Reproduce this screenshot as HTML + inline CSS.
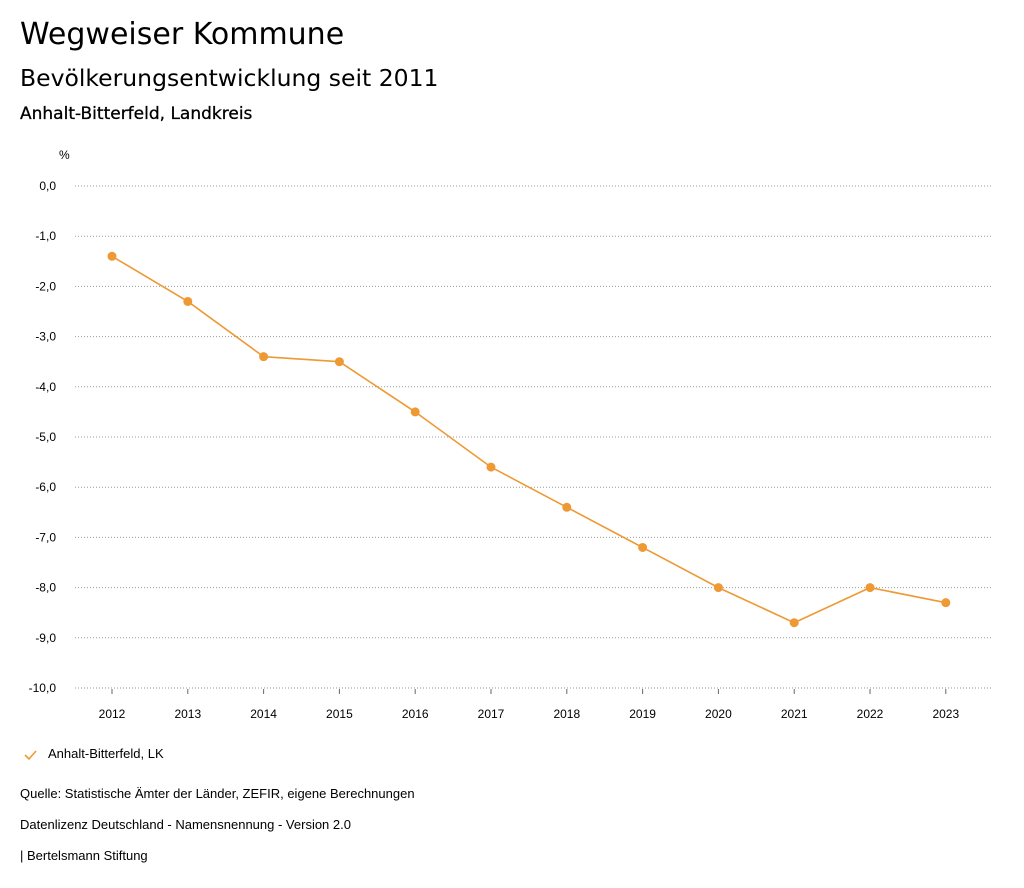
<!DOCTYPE html>
<html><head><meta charset="utf-8">
<style>
body{margin:0;background:#fff;font-family:"Liberation Sans",sans-serif;color:#000}
.t{position:absolute;white-space:nowrap}
.d{font-family:"DejaVu Sans",sans-serif}
</style></head>
<body>
<div style="position:relative;width:1024px;height:888px;overflow:hidden">
<div class="t d" style="left:20px;top:17px;font-size:30px">Wegweiser Kommune</div>
<div class="t d" style="left:20px;top:64px;font-size:23.5px">Bevölkerungsentwicklung seit 2011</div>
<div class="t d" style="left:20px;top:104px;font-size:17px;font-weight:500;-webkit-text-stroke:0.3px #000">Anhalt-Bitterfeld, Landkreis</div>
<svg id="chart" width="1024" height="740" style="position:absolute;left:0;top:0"></svg>
<div class="t" style="left:48px;top:746px;font-size:13px">Anhalt-Bitterfeld, LK</div>
<svg style="position:absolute;left:23px;top:748px" width="16" height="14"><path d="M2 7 L6 11 L13 3" stroke="#ee9933" stroke-width="1.6" fill="none"/></svg>
<div class="t" style="left:20px;top:786px;font-size:13px">Quelle: Statistische Ämter der Länder, ZEFIR, eigene Berechnungen</div>
<div class="t" style="left:20px;top:817px;font-size:13px">Datenlizenz Deutschland - Namensnennung - Version 2.0</div>
<div class="t" style="left:20px;top:848px;font-size:13px">| Bertelsmann Stiftung</div>
</div>
<script>
const years=[2012,2013,2014,2015,2016,2017,2018,2019,2020,2021,2022,2023];
const values=[-1.4,-2.3,-3.4,-3.5,-4.5,-5.6,-6.4,-7.2,-8.0,-8.7,-8.0,-8.3];
const yTicks=[0,-1,-2,-3,-4,-5,-6,-7,-8,-9,-10];
const NS="http://www.w3.org/2000/svg";
const svg=document.getElementById('chart');
const y=v=>186+(0-v)*50.2;
const x=i=>112+i*75.8;
function mk(t,a){const e=document.createElementNS(NS,t);for(const k in a)e.setAttribute(k,a[k]);svg.appendChild(e);return e;}
let u=mk('text',{x:59,y:159,'font-size':12,'font-family':'Liberation Sans'});u.textContent='%';


yTicks.forEach(v=>{
 const g=mk('line',{x1:75,x2:993,y1:y(v),y2:y(v),stroke:'#999','stroke-dasharray':'1,2'});
 
 
 const t=mk('text',{x:56,y:y(v)+4,'font-size':12,'text-anchor':'end','font-family':'Liberation Sans'});
 t.textContent=v.toFixed(1).replace('.',',');
 
 
});
years.forEach((yr,i)=>{
 const tk=mk('line',{x1:x(i),x2:x(i),y1:689,y2:694,stroke:'#666'});
 
 
 const t=mk('text',{x:x(i),y:718,'font-size':12,'text-anchor':'middle','font-family':'Liberation Sans'});
 t.textContent=yr;
 
 
});
const ln=mk('polyline',{points:values.map((v,i)=>x(i)+','+y(v)).join(' '),fill:'none',stroke:'#ee9933','stroke-width':1.6});


values.forEach((v,i)=>{
 const c=mk('circle',{cx:x(i),cy:y(v),r:4.5,fill:'#ee9933'});
 
 
});
</script>
</body></html>
